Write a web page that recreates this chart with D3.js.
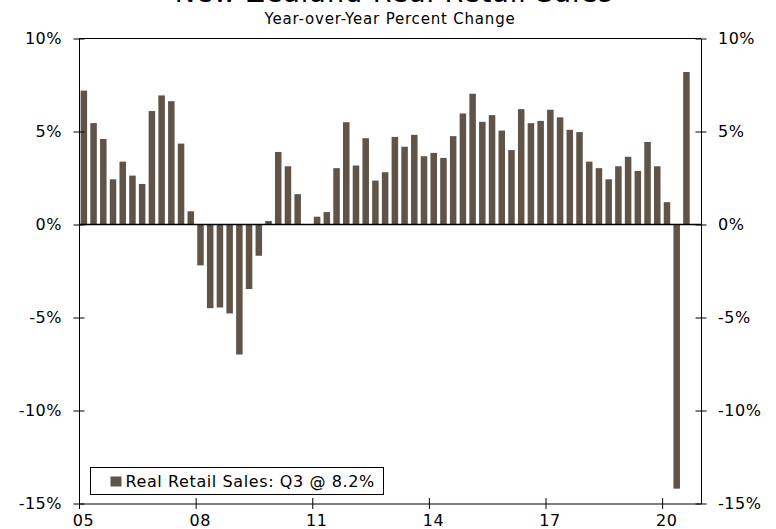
<!DOCTYPE html>
<html>
<head>
<meta charset="utf-8">
<script src="https://cdn.jsdelivr.net/npm/d3@7"></script>
<style>
  body { margin: 0; background: #fff; }
  text { font-family: "DejaVu Sans", Verdana, sans-serif; fill: #000; }
</style>
</head>
<body>
<div id="chart"></div>
<script>
// years shown on the x axis and the quarterly values (y/y %), 2005Q1 .. 2020Q3
let years = [2005, 2006, 2007, 2008, 2009, 2010, 2011, 2012, 2013, 2014, 2015, 2016, 2017, 2018, 2019, 2020];
let quarterNames = ['Q1', 'Q2', 'Q3', 'Q4'];
let salesYoY = [
  7.2, 5.45, 4.6, 2.43,
  3.38, 2.63, 2.18, 6.1,
  6.94, 6.63, 4.35, 0.71,
  -2.2, -4.5, -4.46, -4.78,
  -6.99, -3.47, -1.68, 0.19,
  3.9, 3.13, 1.63, 0,
  0.42, 0.67, 3.03, 5.5,
  3.17, 4.64, 2.36, 2.81,
  4.71, 4.18, 4.82, 3.67,
  3.85, 3.58, 4.75, 5.97,
  7.03, 5.52, 5.88, 5.05,
  4.0, 6.2, 5.45, 5.57,
  6.17, 5.76, 5.09, 4.97,
  3.38, 3.03, 2.43, 3.13,
  3.64, 2.88, 4.44, 3.13,
  1.2, -14.2, 8.2
];
let yTicks = [10, 5, 0, -5, -10, -15];
let xTickYears = [2005, 2008, 2011, 2014, 2017, 2020];
let legendLabel = 'Real Retail Sales: Q3 @ 8.2%';

// set the dimensions and margins of the graph
let margin = {top: 38.5, right: 75, bottom: 25.5, left: 79},
    totalW = 776, totalH = 529,
    width = totalW - margin.left - margin.right,
    height = totalH - margin.top - margin.bottom;

let svg = d3.select('#chart')
  .append('svg')
    .attr('width', totalW)
    .attr('height', totalH);

let g = svg.append('g')
    .attr('transform', 'translate(' + margin.left + ',' + margin.top + ')');

// quarter categories
let quarters = [];
years.forEach(function(yr) { quarterNames.forEach(function(q) { quarters.push(yr + q); }); });
let data = salesYoY.map(function(v, i) { return {q: quarters[i], v: v}; });

let x = d3.scaleBand()
    .domain(quarters)
    .range([0, width])
    .paddingInner(0.33)
    .paddingOuter(0.165);

let xYear = d3.scaleLinear()
    .domain([years[0], years[years.length - 1] + 1])
    .range([0, width]);

let y = d3.scaleLinear()
    .domain([-15, 10])
    .range([height, 0]);

// bars
g.append('g')
  .selectAll('rect')
  .data(data)
  .enter().append('rect')
    .attr('x', function(d) { return x(d.q); })
    .attr('y', function(d) { return y(Math.max(0, d.v)); })
    .attr('width', x.bandwidth())
    .attr('height', function(d) { return Math.abs(y(d.v) - y(0)); })
    .attr('fill', '#5f5447');

// zero line
g.append('line')
    .attr('x1', 0).attr('x2', width)
    .attr('y1', y(0)).attr('y2', y(0))
    .attr('stroke', '#000').attr('stroke-width', 1.5);

// top frame line
g.append('line')
    .attr('x1', 0).attr('x2', width)
    .attr('y1', 0).attr('y2', 0)
    .attr('stroke', '#000');

// axes, ticks crossing the axis line
function styleAxis(sel, horizontal) {
  sel.select('.domain').attr('stroke', '#000');
  sel.selectAll('.tick line')
    .attr(horizontal ? 'y1' : 'x1', -5.5)
    .attr(horizontal ? 'y2' : 'x2', 5.5)
    .attr('stroke', '#000');
  sel.selectAll('.tick text')
    .style('font-family', '"DejaVu Sans", Verdana, sans-serif')
    .style('font-size', '16px')
    .style('letter-spacing', '0.5px')
    .attr('fill', '#000');
}

let leftAxis = g.append('g')
  .call(d3.axisLeft(y).tickValues(yTicks).tickFormat(function(d) { return d + '%'; })
    .tickSizeOuter(0).tickPadding(11));
styleAxis(leftAxis, false);

let rightAxis = g.append('g')
  .attr('transform', 'translate(' + width + ',0)')
  .call(d3.axisRight(y).tickValues(yTicks).tickFormat(function(d) { return d + '%'; })
    .tickSizeOuter(0).tickPadding(11));
styleAxis(rightAxis, false);

let bottomAxis = g.append('g')
  .attr('transform', 'translate(0,' + height + ')')
  .call(d3.axisBottom(xYear).tickValues(xTickYears)
    .tickFormat(function(d) { return String(d).slice(2); })
    .tickSizeOuter(0).tickPadding(5));
styleAxis(bottomAxis, true);
bottomAxis.selectAll('.tick text').attr('dx', 4);

// title (cut off at the top edge)
svg.append('text')
    .attr('x', 394).attr('y', 2)
    .attr('text-anchor', 'middle')
    .style('font-size', '27px')
    .style('letter-spacing', '1px')
    .text('New Zealand Real Retail Sales');

svg.append('text')
    .attr('x', 390).attr('y', 24)
    .attr('text-anchor', 'middle')
    .style('font-size', '15px')
    .style('letter-spacing', '0.8px')
    .text('Year-over-Year Percent Change');

// legend
let legend = svg.append('g').attr('transform', 'translate(90.5,467.5)');
legend.append('rect')
    .attr('width', 293).attr('height', 27)
    .attr('fill', '#fff').attr('stroke', '#000');
legend.append('rect')
    .attr('x', 20).attr('y', 9)
    .attr('width', 11).attr('height', 10)
    .attr('fill', '#5f5447');
legend.append('text')
    .attr('x', 35).attr('y', 19.5)
    .style('font-size', '16px')
    .style('letter-spacing', '0.6px')
    .text(legendLabel);
</script>
</body>
</html>
